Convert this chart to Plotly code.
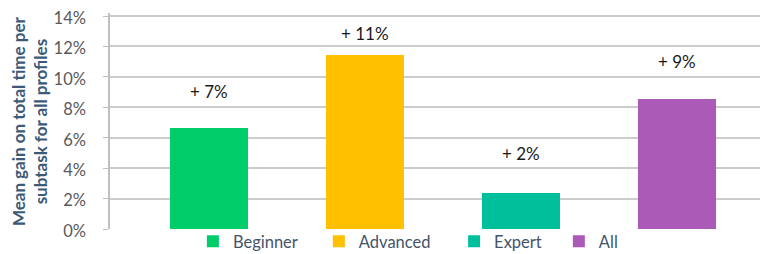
import plotly.graph_objects as go

categories = ["Beginner", "Advanced", "Expert", "All"]
values = [6.65, 11.45, 2.38, 8.55]
labels = ["+ 7%", "+ 11%", "+ 2%", "+ 9%"]
colors = ["#00CC6A", "#FFC000", "#00BF9B", "#AB5AB7"]
y_ticks = [0, 2, 4, 6, 8, 10, 12, 14]
y_tick_text = [f"{t}%" for t in y_ticks]

label_shift = [36, 21, 39, 37]
legend_x = [0.125, 0.315, 0.519, 0.677]
legend_ids = ["legend", "legend2", "legend3", "legend4"]

fig = go.Figure()
for i, (c, v, col) in enumerate(zip(categories, values, colors)):
    fig.add_trace(go.Bar(
        x=[i], y=[v], name=c, marker=dict(color=col, line=dict(width=0)),
        width=0.5, showlegend=True, legend=legend_ids[i],
    ))
    fig.add_annotation(x=i, y=v, text=labels[i], showarrow=False, yshift=label_shift[i],
                       yanchor="middle", font=dict(family="Lato", size=17, color="#1a1a1a"))

fig.add_annotation(xref="paper", yref="paper", x=-0.122, y=0.5, xanchor="center", yanchor="middle",
                   text="<b>Mean gain on total time per<br>subtask for all profiles</b>", textangle=-90,
                   showarrow=False, font=dict(family="Lato", size=17, color="#3C5A78"))

legend_common = dict(orientation="h", xanchor="left", y=-0.058, yanchor="middle",
                     font=dict(family="Lato", size=16.5, color="#44546A"), itemwidth=30,
                     bgcolor="rgba(0,0,0,0)")
layout_legends = {}
for lid, lx in zip(legend_ids, legend_x):
    layout_legends[lid] = dict(x=lx, **legend_common)

fig.update_layout(
    width=768, height=254,
    margin=dict(l=102, r=3, t=5, b=25),
    plot_bgcolor="white", paper_bgcolor="white",
    bargap=0,
    barmode="overlay",
    xaxis=dict(range=[-0.635, 3.615], showticklabels=False, showgrid=False, zeroline=False,
               showline=False),
    yaxis=dict(range=[0, 14.2], tickvals=y_ticks, ticktext=y_tick_text, showgrid=True,
               gridcolor="#CCCCCC", gridwidth=1.5, zeroline=False, showline=True,
               linecolor="#BFBFBF", linewidth=1.5, ticks="outside", ticklen=5, tickcolor="#BFBFBF",
               tickfont=dict(family="Lato", size=16.5, color="#595959"), ticklabelstandoff=14,
               ticklabelshift=2, ticklabeloverflow="allow", automargin=False),
    **layout_legends,
)

fig.write_html("out.html")
